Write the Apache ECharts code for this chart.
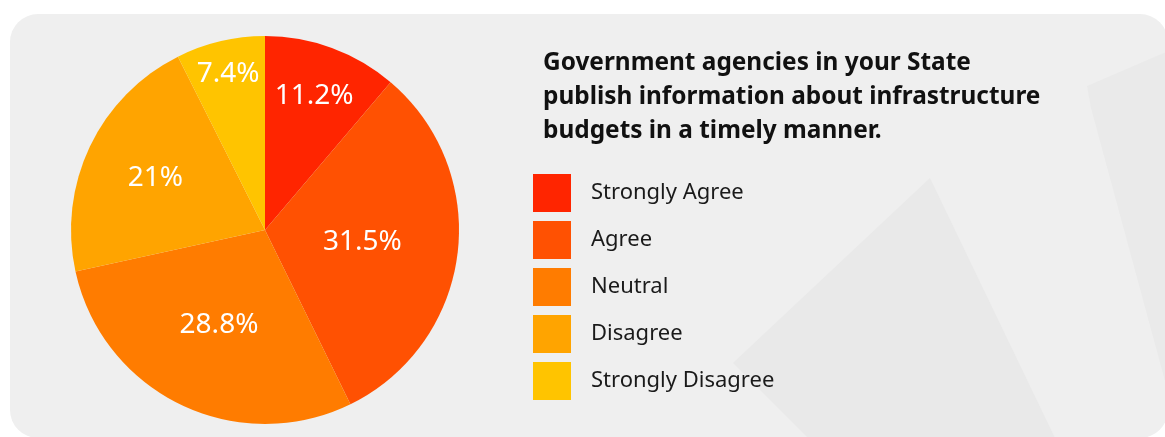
<!DOCTYPE html>
<html>
<head>
<meta charset="utf-8">
<script src="https://cdn.jsdelivr.net/npm/echarts@6/dist/echarts.min.js"></script>
<style>
  html, body { margin: 0; padding: 0; background: #ffffff; }
  #chart { width: 1165px; height: 437px; }
</style>
</head>
<body>
<div id="chart"></div>
<script>
// Survey responses
const categories = ['Strongly Agree', 'Agree', 'Neutral', 'Disagree', 'Strongly Disagree'];
const shares = [11.2, 31.5, 28.8, 21, 7.4];
const sliceColors = ['#ff2500', '#ff5102', '#ff7c00', '#ffa400', '#ffc400'];
// how far out (fraction of radius) each percentage label sits
const labelRadius = [0.72, 0.49, 0.53, 0.61, 0.81];

const titleText = 'Government agencies in your State\npublish information about infrastructure\nbudgets in a timely manner.';

const center = [265, 230];
const radius = 194;
const fontFamily = '"Noto Sans", "Open Sans", sans-serif';

const total = shares.reduce((a, b) => a + b, 0);
let cum = 0;
const pieData = categories.map((name, i) => {
  const v = shares[i];
  const mid = (90 - 360 * (cum + v / 2) / total) * Math.PI / 180;
  cum += v;
  const shift = (labelRadius[i] - 0.5) * radius;
  return {
    name: name,
    value: v,
    itemStyle: { color: sliceColors[i] },
    label: { offset: [shift * Math.cos(mid), -shift * Math.sin(mid)] }
  };
});

const chart = echarts.init(document.getElementById('chart'), null, { renderer: 'canvas' });
chart.setOption({
  animation: false,
  backgroundColor: '#ffffff',
  graphic: [
    {
      type: 'rect', z: -10, silent: true,
      shape: { x: 10, y: 14, width: 1158, height: 424, r: 28 },
      style: { fill: '#efefef' }
    },
    {
      type: 'polygon', z: -9, silent: true,
      shape: { points: [[930, 178], [733, 363], [808, 438], [1055, 438]] },
      style: { fill: '#e9e9e9' }
    },
    {
      type: 'polygon', z: -9, silent: true,
      shape: { points: [[1091, 108], [1087, 86], [1166, 52], [1168, 392]] },
      style: { fill: '#eaeaea' }
    }
  ],
  title: {
    text: titleText,
    left: 543,
    top: 46,
    padding: 0,
    textStyle: {
      fontFamily: fontFamily,
      fontSize: 24.4,
      fontWeight: 'bold',
      lineHeight: 34,
      color: '#111111'
    }
  },
  legend: {
    orient: 'vertical',
    left: 533,
    top: 174,
    padding: 0,
    icon: 'rect',
    itemWidth: 38,
    itemHeight: 38,
    itemGap: 9,
    data: categories,
    textStyle: {
      fontFamily: fontFamily,
      fontSize: 22,
      color: '#1a1a1a',
      padding: [0, 0, 0, 15]
    }
  },
  series: [{
    type: 'pie',
    center: center,
    radius: radius,
    startAngle: 90,
    clockwise: true,
    avoidLabelOverlap: false,
    label: {
      show: true,
      position: 'inside',
      formatter: '{c}%',
      color: '#ffffff',
      fontFamily: fontFamily,
      fontSize: 28,
      textBorderWidth: 0
    },
    labelLine: { show: false },
    itemStyle: { borderWidth: 0 },
    emphasis: { disabled: true },
    data: pieData
  }]
});
</script>
</body>
</html>
